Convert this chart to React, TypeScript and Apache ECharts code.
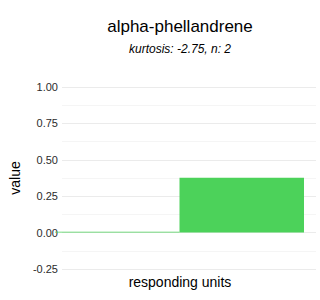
import React, { useEffect, useRef } from "react";
import * as echarts from "echarts";

const categories = ["1", "2"];
const values = [0.005, 0.377];
const yTicks = [-0.25, 0, 0.25, 0.5, 0.75, 1.0];
const titleText = "alpha-phellandrene";
const subtitleText = "kurtosis: -2.75, n: 2";

export default function App() {
  const ref = useRef<HTMLDivElement>(null);
  useEffect(() => {
    if (!ref.current) return;
    const chart = echarts.init(ref.current, null, { renderer: "svg" });
    const top = 87;
    const bottom = 300 - 269;
    const yMin = yTicks[0];
    const yMax = yTicks[yTicks.length - 1];
    chart.setOption({
      animation: false,
      textStyle: { fontFamily: "Liberation Sans" },
      grid: [
        { left: 43, right: 4, top, bottom, containLabel: false },
        { left: 55, right: 16, top, bottom, containLabel: false },
      ],
      xAxis: [
        { type: "value", gridIndex: 0, show: false, min: 0, max: 1 },
        {
          type: "category",
          gridIndex: 1,
          data: categories,
          boundaryGap: true,
          axisLine: { show: false },
          axisTick: { show: false },
          axisLabel: { show: false },
        },
      ],
      yAxis: [
        {
          type: "value",
          gridIndex: 0,
          min: yMin,
          max: yMax,
          interval: 0.25,
          axisLine: { show: false },
          axisTick: { show: false },
          axisLabel: {
            color: "#2b2b2b",
            fontSize: 11,
            margin: 4,
            formatter: (v: number) => v.toFixed(2),
          },
          splitLine: { show: true, lineStyle: { color: "#ebebeb", width: 1 } },
          minorTick: { show: false, splitNumber: 2 },
          minorSplitLine: { show: true, lineStyle: { color: "#f5f5f5", width: 1 } },
          name: "value",
          nameLocation: "middle",
          nameRotate: 90,
          nameGap: 29,
          nameTextStyle: { fontSize: 14, color: "#000" },
        },
        {
          type: "value",
          gridIndex: 1,
          min: yMin,
          max: yMax,
          interval: 0.25,
          show: false,
          splitLine: { show: false },
        },
      ],
      series: [
        {
          type: "bar",
          xAxisIndex: 1,
          yAxisIndex: 1,
          data: values,
          barCategoryGap: 0,
          itemStyle: { color: "#4cd25a" },
        },
      ],
      graphic: [
        {
          type: "text",
          x: 180,
          y: 26,
          style: {
            text: titleText,
            textAlign: "center",
            textVerticalAlign: "middle",
            fontSize: 17,
            fontFamily: "Liberation Sans",
            fill: "#000",
          },
        },
        {
          type: "text",
          x: 180,
          y: 49,
          style: {
            text: subtitleText,
            textAlign: "center",
            textVerticalAlign: "middle",
            fontSize: 12,
            fontStyle: "italic",
            fontFamily: "Liberation Sans",
            fill: "#000",
          },
        },
        {
          type: "text",
          x: 180,
          y: 282,
          style: {
            text: "responding units",
            textAlign: "center",
            textVerticalAlign: "middle",
            fontSize: 14,
            fontFamily: "Liberation Sans",
            fill: "#000",
          },
        },
      ],
    });
    return () => chart.dispose();
  }, []);
  return <div ref={ref} style={{ width: 320, height: 300, position: "absolute", left: 0, top: 0 }} />;
}
